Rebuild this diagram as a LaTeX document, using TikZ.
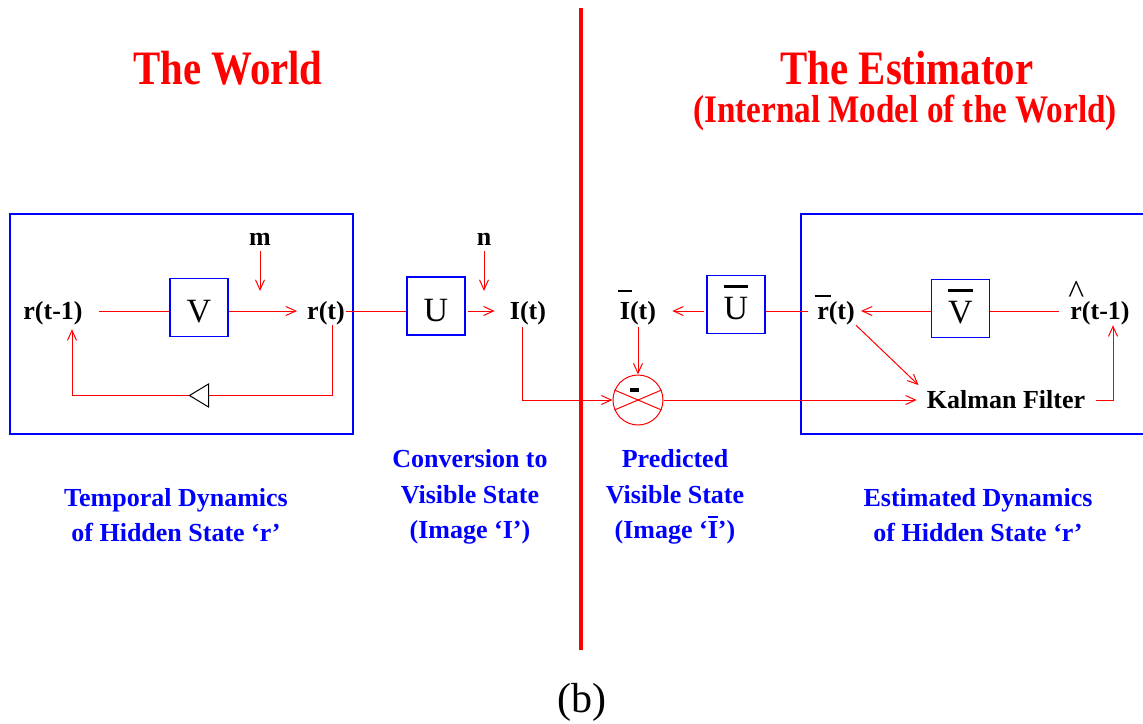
\documentclass[tikz,border=0pt]{standalone}
\usepackage{fontspec}
\setmainfont{Liberation Serif}
\newfontfamily\headfont[FakeStretch=0.85]{Liberation Serif}
\usetikzlibrary{arrows.meta,calc}
\definecolor{wred}{RGB}{255,0,0}
\definecolor{wblue}{RGB}{0,0,255}
% bar over a letter: [raise][extra width]{letter}
\NewDocumentCommand{\barred}{O{0.94em} O{0em} m}{\setbox0=\hbox{#3}%
  \makebox[0pt][l]{\hspace{-0.5\dimexpr#2\relax}%
  \raisebox{#1}{\rule{\dimexpr\wd0+#2\relax}{0.065em}}}\box0}
\newcommand{\hatted}[1]{\setbox0=\hbox{#1}\makebox[0pt][l]{\makebox[\wd0]{%
  \raisebox{0.58em}{\scalebox{1.3}{\mdseries\textasciicircum}}}}\box0}
\tikzset{
  sig/.style={font=\fontsize{26}{30}\selectfont\bfseries, inner sep=1pt,
              text height=21pt, text depth=5pt},
  blk/.style={draw=wblue, line width=1.2pt, minimum width=58pt, minimum height=58pt,
              inner sep=0pt, text height=30pt, text depth=0pt,
              font=\fontsize{34}{38}\selectfont},
  realm/.style={draw=wblue, line width=1.2pt},
  wire/.style={wred, line width=1pt},
  flow/.style={wire, -{Straight Barb[length=10pt, width=9pt, line width=1pt]}},
  cmp/.style={circle, draw=wred, line width=1pt, minimum size=50pt, inner sep=0pt},
  sign/.style={fill=black, minimum width=9pt, minimum height=4pt, inner sep=0pt},
  legend/.style={text=wblue, font=\fontsize{26}{35.5}\selectfont\bfseries, align=center},
  head/.style={text=wred, font=\headfont\fontsize{48}{50}\selectfont\bfseries},
  subhead/.style={head, font=\headfont\fontsize{39}{40}\selectfont\bfseries},
  divide/.style={wred, line width=4pt}
}

\begin{document}
\begin{tikzpicture}[x=1pt, y=-1pt]
\useasboundingbox (0,0) rectangle (1143,723);
% headings and the split
\node[head] (world) at (228,68) {The World};
\node[head] (est) at (907,68) {The Estimator};
\node[subhead] (estsub) at (905,113) {(Internal Model of the World)};
\draw[divide] (581,8) -- (581,650);
% the world
\draw[realm] (10,214) rectangle (353,434);
\node[sig] (rprev) at (53,311) {r(t-1)};
\node[blk] (V) at (199,307.5) {V};
\node[sig] (rt) at (326,311) {r(t)};
\node[sig] (m) at (260,237) {m};
\coordinate (min) at (260,291);
\coordinate (dly) at (199,395.5);
\node[blk] (U) at (436,306) {U};
\node[sig] (n) at (484,237) {n};
\coordinate (nin) at (484,291);
\node[sig] (It) at (528,311) {I(t)};
\draw[wire, shorten <=15pt] (rprev.east) -- (rprev.east -| V.west);
\draw[flow, shorten >=9pt] (rt.west -| V.east) -- (rt.west);
\draw[flow] (m.south) -- (min);
\draw[flow, shorten >=4pt] ([xshift=6pt]rt.south) |- (dly) -| ([xshift=19pt]rprev.south);
\draw[black, fill=white, line width=1pt] ($(dly)+(9.5,-11.5)$) -- ($(dly)+(9.5,11.5)$)
  -- ($(dly)+(-9.5,0)$) -- cycle;
\draw[wire] (rt.east) -- (rt.east -| U.west);
\draw[flow, shorten <=2pt, shorten >=14pt] (It.west -| U.east) -- (It.west);
\draw[flow] (n.south) -- (nin);
% the estimator
\node[sig] (Ibar) at (638,311) {\barred[1.04em][0.15em]{I}(t)};
\node[cmp] (cmp) at (638,400) {};
\node[sign] (minus) at (634,390) {};
\draw[wire] (cmp.157) -- (cmp.-23);
\draw[wire] (cmp.23) -- (cmp.-157);
\draw[flow, shorten <=2pt] ([xshift=-6pt]It.south) |- (cmp.west);
\draw[flow, shorten <=2pt] (Ibar.south) -- (cmp.north);
\draw[realm] (1150,214) -- (801,214) -- (801,434) -- (1150,434);
\node[blk] (Ub) at (736,304.5) {\barred{U}};
\node[sig] (rbar) at (836,311) {\barred[0.86em][0.2em]{r}(t)};
\node[blk] (Vb) at (960.5,308.5) {\barred{V}};
\node[sig] (rhat) at (1100,311) {\hatted{r}(t-1)};
\node[sig] (kf) at (1006,400) {Kalman Filter};
\draw[flow, shorten <=2pt, shorten >=15pt] (Ibar.east -| Ub.west) -- (Ibar.east);
\draw[wire, shorten <=8pt] (rbar.west) -- (rbar.west -| Ub.east);
\draw[flow, shorten >=5pt] (rbar.east -| Vb.west) -- (rbar.east);
\draw[wire, shorten <=10pt] (rhat.west) -- (rhat.west -| Vb.east);
\draw[flow, shorten >=10pt] (rbar.south east) -- ([yshift=8pt]kf.west);
\draw[flow, shorten >=9pt] (cmp.east) -- (kf.west);
\draw[flow, shorten <=10pt] (kf.east) -| ([xshift=13pt]rhat.south);
% captions
\node[legend] (capw) at (176,515) {Temporal Dynamics\\of Hidden State `r'};
\node[legend] (capu) at (470,497) {Conversion to\\Visible State\\(Image `I')};
\node[legend] (capp) at (675,497) {Predicted\\Visible State\\(Image `\barred[0.8em]{I}')};
\node[legend] (cape) at (978,515) {Estimated Dynamics\\of Hidden State `r'};
\node[font=\fontsize{42}{46}\selectfont] (tag) at (582,702) {(b)};
\end{tikzpicture}
\end{document}
